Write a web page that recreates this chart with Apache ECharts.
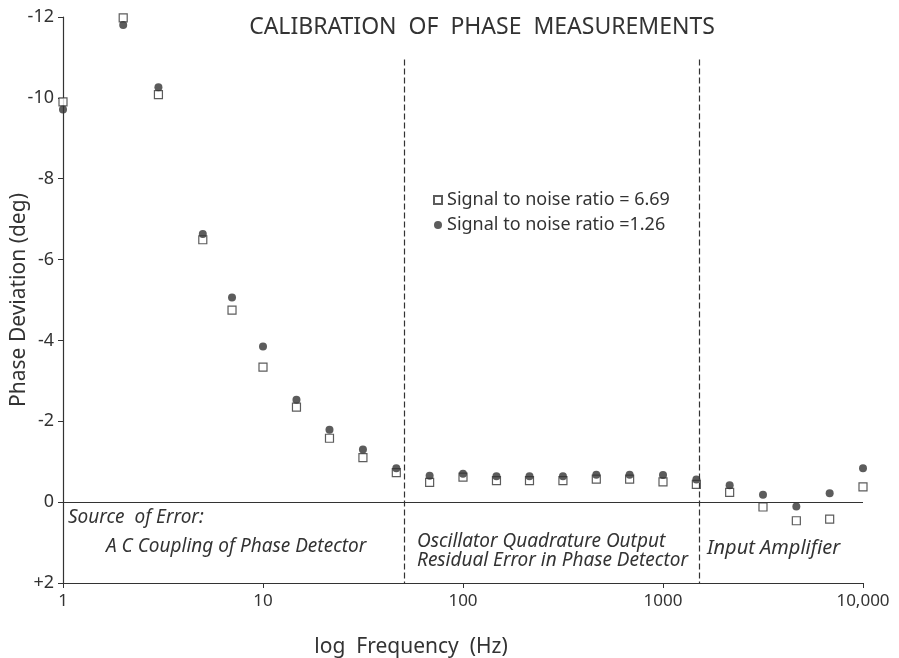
<!DOCTYPE html>
<html>
<head>
<meta charset="utf-8">
<style>
    html, body {margin: 0; padding: 0; background: #fff;}
    #chart-1 {width: 899px; height: 658px;}
</style>
</head>
<body>
<div id="chart-1"></div>
<script type="text/javascript" src="https://cdn.jsdelivr.net/npm/echarts@6/dist/echarts.min.js"></script>
<script type="text/javascript">
    // frequencies (Hz) of the calibration points
    var freqs = [1, 2, 3, 5, 7, 10, 14.7, 21.5, 31.6, 46.4, 68.1, 100, 147, 215, 316, 464, 681, 1000, 1468, 2154, 3162, 4642, 6813, 10000];
    // phase deviation (deg), open squares: S/N = 6.69
    var snrHigh = [-9.9, -11.98, -10.08, -6.49, -4.75, -3.34, -2.35, -1.58, -1.10, -0.73, -0.49, -0.62, -0.53, -0.53, -0.53, -0.57, -0.57, -0.50, -0.44, -0.24, 0.12, 0.46, 0.42, -0.38];
    // phase deviation (deg), filled circles: S/N = 1.26
    var snrLow = [-9.71, -11.8, -10.26, -6.63, -5.06, -3.85, -2.53, -1.79, -1.30, -0.84, -0.65, -0.70, -0.64, -0.64, -0.64, -0.68, -0.68, -0.67, -0.56, -0.42, -0.18, 0.11, -0.22, -0.84];
    // boundaries between the error-source regions (Hz)
    var regionBounds = [50.7, 1514];
    var regionTop = -10.95;
    var seriesNames = ['Signal to noise ratio = 6.69', 'Signal to noise ratio =1.26'];
    var xTickLabels = {1: '1', 10: '10', 100: '100', 1000: '1000', 10000: '10,000'};

    var ink = '#333';
    var font = 'Noto Sans';

    function pairs(ys) {
        return freqs.map(function (f, i) { return [f, ys[i]]; });
    }

    var myChart = echarts.init(document.getElementById('chart-1'));
    var option = {
        backgroundColor: '#fff',
        animation: false,
        textStyle: {fontFamily: font, color: ink},
        grid: {left: 63, right: 36, top: 17, bottom: 75, containLabel: false},
        legend: {
            orient: 'vertical',
            left: 428,
            top: 186,
            itemGap: 7,
            itemWidth: 8,
            itemHeight: 8,
            textStyle: {fontFamily: font, fontSize: 18, color: ink},
            data: [
                {name: seriesNames[0], icon: 'rect'},
                {name: seriesNames[1], icon: 'circle'}
            ]
        },
        xAxis: {
            type: 'log',
            logBase: 10,
            min: 1,
            max: 10000,
            axisLine: {onZero: false, lineStyle: {color: ink, width: 1.2}},
            axisTick: {show: true, length: 5, lineStyle: {color: ink}},
            minorTick: {show: false},
            splitLine: {show: false},
            axisLabel: {
                fontSize: 17,
                color: ink,
                margin: 10,
                formatter: function (v) { return xTickLabels[Math.round(v)] || ''; }
            }
        },
        yAxis: {
            type: 'value',
            inverse: true,
            min: -12,
            max: 2,
            interval: 2,
            axisLine: {show: true, lineStyle: {color: ink, width: 1.2}},
            axisTick: {show: true, length: 5, lineStyle: {color: ink}},
            splitLine: {show: false},
            axisLabel: {
                fontSize: 18,
                color: ink,
                margin: 9,
                formatter: function (v) { return v > 0 ? '+' + v : String(v); }
            }
        },
        graphic: [
            {type: 'text', x: 482, y: 27, style: {
                text: 'CALIBRATION  OF  PHASE  MEASUREMENTS', font: '23px "Noto Sans"', fill: ink, align: 'center', verticalAlign: 'middle'}},
            {type: 'text', x: 19, y: 300, rotation: Math.PI / 2, style: {
                text: 'Phase Deviation (deg)', font: '21px "Noto Sans"', fill: ink, align: 'center', verticalAlign: 'middle'}},
            {type: 'text', x: 411, y: 647, style: {
                text: 'log  Frequency  (Hz)', font: '21px "Noto Sans"', fill: ink, align: 'center', verticalAlign: 'middle'}},
            {type: 'text', x: 68, y: 518, style: {
                text: 'Source  of Error:', font: 'italic 19px "Noto Sans"', fill: ink, verticalAlign: 'middle'}},
            {type: 'text', x: 106, y: 547, style: {
                text: 'A C Coupling of Phase Detector', font: 'italic 19px "Noto Sans"', fill: ink, verticalAlign: 'middle'}},
            {type: 'text', x: 417, y: 542, style: {
                text: 'Oscillator Quadrature Output', font: 'italic 19px "Noto Sans"', fill: ink, verticalAlign: 'middle'}},
            {type: 'text', x: 417, y: 561, style: {
                text: 'Residual Error in Phase Detector', font: 'italic 19px "Noto Sans"', fill: ink, verticalAlign: 'middle'}},
            {type: 'text', x: 707, y: 548, style: {
                text: 'Input Amplifier', font: 'italic 20px "Noto Sans"', fill: ink, verticalAlign: 'middle'}}
        ],
        series: [
            {
                name: seriesNames[0],
                type: 'scatter',
                symbol: 'rect',
                symbolSize: 8,
                itemStyle: {color: '#fff', borderColor: ink, borderWidth: 1.2},
                data: pairs(snrHigh),
                markLine: {
                    silent: true,
                    symbol: ['none', 'none'],
                    label: {show: false},
                    lineStyle: {color: ink, type: 'solid', width: 1.2},
                    data: [{yAxis: 0}]
                },
                z: 3
            },
            {
                name: seriesNames[1],
                type: 'scatter',
                symbol: 'circle',
                symbolSize: 8,
                itemStyle: {color: '#333', borderColor: '#333', borderWidth: 0},
                data: pairs(snrLow),
                markLine: {
                    silent: true,
                    symbol: ['none', 'none'],
                    label: {show: false},
                    lineStyle: {color: ink, type: [6, 3], width: 1.2},
                    data: regionBounds.map(function (b) {
                        return [{coord: [b, regionTop]}, {coord: [b, 2]}];
                    })
                },
                z: 4
            }
        ]
    };
    myChart.setOption(option);
</script>
</body>
</html>
